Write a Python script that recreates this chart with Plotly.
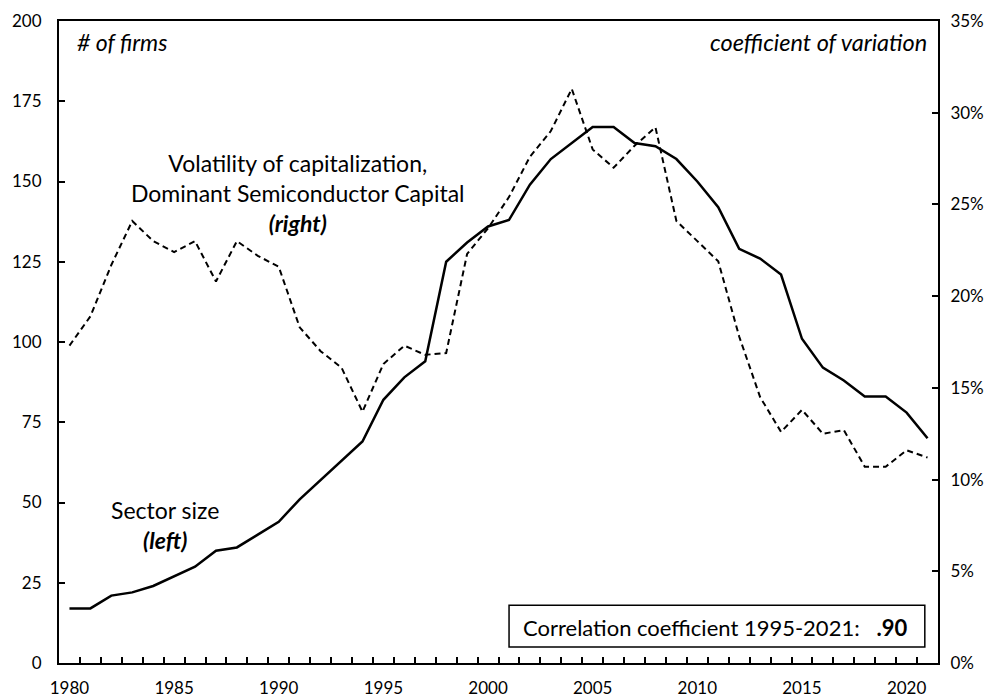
import plotly.graph_objects as go

years = list(range(1980, 2022))
sector_size = [17, 17, 21, 22, 24, 27, 30, 35, 36, 40,
               44, 51, 57, 63, 69, 82, 89, 94, 125, 131,
               136, 138, 149, 157, 162, 167, 167, 162, 161, 157,
               150, 142, 129, 126, 121, 101, 92, 88, 83, 83,
               78, 70]
volatility_pct = [17.3, 18.9, 21.7, 24.1, 23.0, 22.4, 23.0, 20.8, 23.0, 22.2,
                  21.6, 18.3, 17.0, 16.1, 13.7, 16.3, 17.3, 16.8, 16.9, 22.3,
                  23.7, 25.4, 27.6, 29.0, 31.3, 28.0, 27.0, 28.2, 29.2, 24.1,
                  23.0, 21.9, 17.8, 14.5, 12.6, 13.8, 12.5, 12.7, 10.7, 10.7,
                  11.6, 11.2]
x_tick_years = [1980, 1985, 1990, 1995, 2000, 2005, 2010, 2015, 2020]

FONT = "Lato"

fig = go.Figure()
fig.add_trace(go.Scatter(
    x=years, y=volatility_pct, yaxis="y2", mode="lines",
    line={"color": "black", "width": 2, "dash": "6px,4px"},
    name="Volatility", showlegend=False,
))
fig.add_trace(go.Scatter(
    x=years, y=sector_size, mode="lines",
    line={"color": "black", "width": 2.5},
    name="Sector size", showlegend=False,
))

# the page body keeps its default 8px margin, so the figure is sized to fit inside it
fig.update_layout(
    width=986, height=689,
    paper_bgcolor="white", plot_bgcolor="white",
    margin={"l": 51, "r": 56, "t": 13, "b": 34},
    font={"family": FONT, "size": 17, "color": "black"},
    xaxis={
        "range": [1979.5, 2021.5], "tickmode": "array", "tickvals": x_tick_years,
        "ticks": "", "showgrid": False, "zeroline": False, "automargin": False,
        "showline": True, "linecolor": "black", "linewidth": 2, "mirror": True,
        "ticklabelstandoff": 9,
        "minor": {"tickvals": [y + 0.5 for y in years[:-1]], "ticks": "inside",
                  "ticklen": 6, "tickcolor": "black", "tickwidth": 1.5, "showgrid": False},
    },
    yaxis={
        "range": [0, 200], "dtick": 25, "ticks": "inside", "ticklen": 6,
        "tickcolor": "black", "tickwidth": 1.5, "showgrid": False, "zeroline": False,
        "showline": True, "linecolor": "black", "linewidth": 2, "automargin": False,
        "ticklabelstandoff": 12,
    },
    yaxis2={
        "range": [0, 35], "dtick": 5, "ticksuffix": "%", "overlaying": "y", "side": "right",
        "ticks": "inside", "ticklen": 6, "tickcolor": "black", "tickwidth": 1.5,
        "showgrid": False, "zeroline": False, "automargin": False,
        "showline": True, "linecolor": "black", "linewidth": 2,
        "ticklabelstandoff": 7,
    },
)

annotations = [
    dict(x=0.018, y=0.967, xanchor="left", yanchor="middle",
         text="<i># of firms</i>", font={"size": 23}),
    dict(x=0.99, y=0.967, xanchor="right", yanchor="middle",
         text="<i>coefficient of variation</i>", font={"size": 23.5}),
    dict(x=0.272, y=0.732, xanchor="center", yanchor="middle", align="center",
         text="Volatility of capitalization,<br>Dominant Semiconductor Capital<br><b><i>(right)</i></b>",
         font={"size": 23}),
    dict(x=0.1206, y=0.215, xanchor="center", yanchor="middle", align="center",
         text="Sector size<br><b><i>(left)</i></b>", font={"size": 23}),
    dict(x=0.747, y=0.056, xanchor="center", yanchor="middle",
         text="Correlation coefficient 1995-2021:   <b>.90</b>", font={"size": 22}),
]
for a in annotations:
    fig.add_annotation(xref="paper", yref="paper", showarrow=False, **a)

fig.add_shape(type="rect", xref="paper", yref="paper",
              x0=0.512, x1=0.985, y0=0.025, y1=0.09,
              line={"color": "black", "width": 1.5}, fillcolor="white", layer="below")

fig.write_html("out.html")
